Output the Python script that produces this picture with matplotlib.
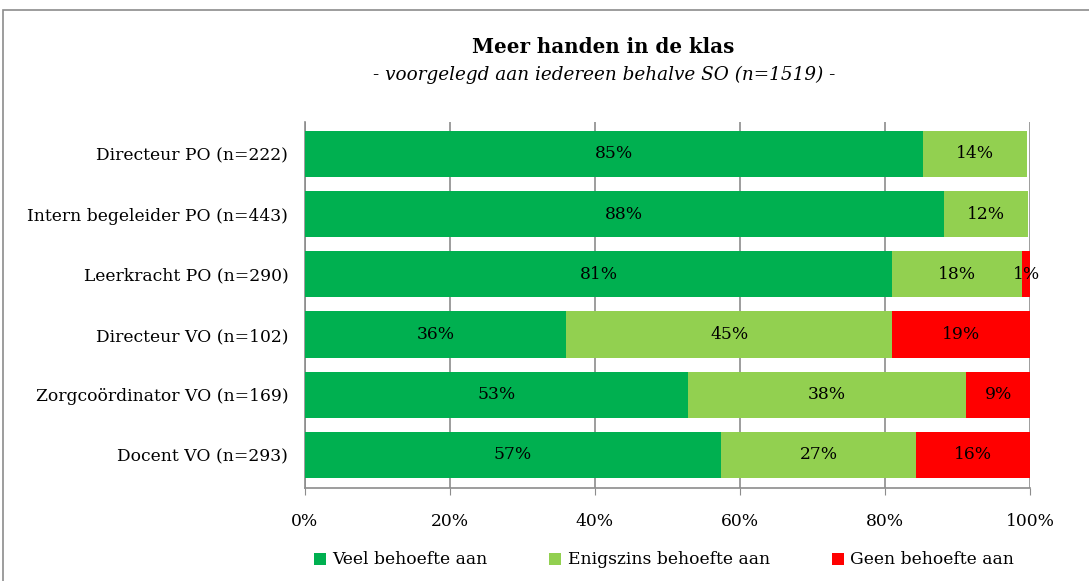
import matplotlib
matplotlib.use("Agg")
import matplotlib.pyplot as plt
from matplotlib.patches import Rectangle
import numpy as np

categories = ["Directeur PO (n=222)", "Intern begeleider PO (n=443)", "Leerkracht PO (n=290)",
              "Directeur VO (n=102)", "Zorgcoördinator VO (n=169)", "Docent VO (n=293)"]
veel = [85.2, 88.1, 81.0, 36.0, 52.8, 57.4]
enigszins = [14.4, 11.6, 17.9, 45.0, 38.4, 26.9]
geen = [0.0, 0.0, 1.1, 19.0, 8.8, 15.7]
series_names = ["Veel behoefte aan", "Enigszins behoefte aan", "Geen behoefte aan"]
colors = ["#00B050", "#92D050", "#FF0000"]
xticks = [0, 20, 40, 60, 80, 100]

plt.rcParams['font.family'] = ['DejaVu Serif']

W, H = 1089, 581
fig = plt.figure(figsize=(W/100, H/100), dpi=100)
ax = fig.add_axes([305/W, 1-488/H, 725/W, 366/H])

fig.patches.append(Rectangle((3/W, -0.1), 1.2, 1 - 10/H + 0.1, transform=fig.transFigure,
                             fill=False, edgecolor="#8c8c8c", linewidth=1.2))

y = np.arange(len(categories))
left = np.zeros(len(categories))
for vals, name, col in zip([veel, enigszins, geen], series_names, colors):
    vals = np.array(vals)
    ax.barh(y, vals, left=left, height=0.77, color=col, label=name, zorder=3)
    for yi, l, v in zip(y, left, vals):
        if v > 0:
            ax.text(l + v/2, yi, f"{v:.0f}%", ha="center", va="center", fontsize=12.3,
                    color="black", zorder=4)
    left = left + vals

ax.set_xlim(0, 100)
ax.set_ylim(5.55, -0.53)
ax.set_xticks(xticks)
ax.set_xticklabels([f"{t}%" for t in xticks], fontsize=12.3)
ax.set_yticks(y)
ax.set_yticklabels(categories, fontsize=12.3)
ax.tick_params(axis="y", length=0, pad=12)
ax.tick_params(axis="x", length=5, direction="out", color="#8c8c8c", pad=13)
ax.grid(axis="x", color="#8c8c8c", linewidth=1.2, zorder=0)
for s in ["top", "right"]:
    ax.spines[s].set_visible(False)
for s in ["left", "bottom"]:
    ax.spines[s].set_color("#8c8c8c")
    ax.spines[s].set_linewidth(1.2)

fig.text(603/W, 1-47/H, "Meer handen in de klas", ha="center", va="center",
         fontsize=14.3, fontweight="bold")
fig.text(604/W, 1-75/H, "- voorgelegd aan iedereen behalve SO (n=1519) -", ha="center", va="center",
         fontsize=13.2, style="italic")

handles, labels = ax.get_legend_handles_labels()
fig.legend(handles, labels, loc="center", bbox_to_anchor=(664/W, 1-560/H), ncol=3,
           frameon=False, fontsize=12.3, handlelength=0.7, handleheight=0.7,
           columnspacing=3.6, handletextpad=0.4)

fig.savefig("out.png", dpi=100)
